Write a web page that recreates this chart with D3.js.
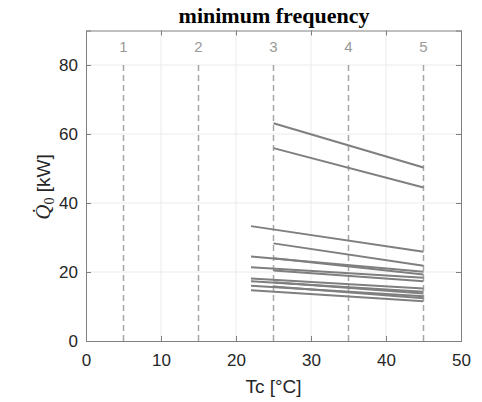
<!DOCTYPE html>
<html><head><meta charset="utf-8">
<script src="https://cdn.jsdelivr.net/npm/d3@7"></script>
<style>body{margin:0;background:#fff}</style>
</head><body>
<svg id="c" width="482" height="402"></svg>
<script>
// data
const tcStart = [22,22,22,22,22,22,22, 25,25,25,25,25,25,25];
const tcEnd   = [45,45,45,45,45,45,45, 45,45,45,45,45,45,45];
const qStart  = [33.3,24.5,21.4,18.1,17.3,16.0,14.7, 63.1,55.9,28.3,24.0,20.4,17.0,15.8];
const qEnd    = [25.9,20.1,18.3,15.2,14.3,13.0,11.5, 50.3,44.5,21.8,19.3,17.3,13.8,12.4];
const stageTc = [5,15,25,35,45];
const stageLabels = ["1","2","3","4","5"];
const xTicks = [0,10,20,30,40,50];
const yTicks = [0,20,40,60,80];

const svg = d3.select("#c");
const L=86,R=461,T=30.5,B=341;
const x = d3.scaleLinear().domain([0,50]).range([L,R]);
const y = d3.scaleLinear().domain([0,90]).range([B,T]);
const sans = "'Liberation Sans', Arial, sans-serif";
const axCol = "#808080";

// grid
svg.append("g").selectAll("line").data(xTicks.slice(1,-1)).join("line")
  .attr("x1",d=>x(d)).attr("x2",d=>x(d)).attr("y1",T).attr("y2",B)
  .attr("stroke","#ebebeb").attr("stroke-width",1);
svg.append("g").selectAll("line").data(yTicks.slice(1)).join("line")
  .attr("x1",L).attr("x2",R).attr("y1",d=>y(d)).attr("y2",d=>y(d))
  .attr("stroke","#ebebeb").attr("stroke-width",1);

// dashed stage lines
svg.append("g").selectAll("line").data(stageTc).join("line")
  .attr("x1",d=>x(d)).attr("x2",d=>x(d)).attr("y1",y(80)).attr("y2",B)
  .attr("stroke","#a6a6a6").attr("stroke-width",1.5).attr("stroke-dasharray","6,4");
svg.append("g").selectAll("text").data(stageTc).join("text")
  .attr("x",d=>x(d)).attr("y",52).attr("text-anchor","middle")
  .attr("font-family",sans).attr("font-size",15).attr("fill","#999999")
  .text((d,i)=>stageLabels[i]);

// axes
const xa = svg.append("g").attr("transform",`translate(0,${B})`)
  .call(d3.axisBottom(x).tickValues(xTicks).tickSize(-5).tickPadding(10));
const ya = svg.append("g").attr("transform",`translate(${L},0)`)
  .call(d3.axisLeft(y).tickValues(yTicks).tickSize(-5).tickPadding(8));
const xt = svg.append("g").attr("transform",`translate(0,${T})`)
  .call(d3.axisTop(x).tickValues(xTicks).tickSize(-5).tickFormat(""));
const yr = svg.append("g").attr("transform",`translate(${R},0)`)
  .call(d3.axisRight(y).tickValues(yTicks).tickSize(-5).tickFormat(""));
[xa,ya,xt,yr].forEach(a=>{
  a.select(".domain").attr("stroke",axCol);
  a.selectAll(".tick line").attr("stroke",axCol);
  a.selectAll("text").attr("font-family",sans).attr("font-size",17).attr("fill","#262626");
});
xa.selectAll("text").attr("dy","0.9em");

// data lines
const line = d3.line().x(d=>x(d[0])).y(d=>y(d[1]));
const series = qStart.map((q,i)=>[[tcStart[i],q],[tcEnd[i],qEnd[i]]]);
svg.append("g").selectAll("path").data(series).join("path")
  .attr("d",line).attr("fill","none").attr("stroke","#7f7f7f").attr("stroke-width",2);

// title
svg.append("text").attr("x",274).attr("y",23).attr("text-anchor","middle")
  .attr("font-family","'Liberation Serif','Times New Roman',serif").attr("font-weight","bold")
  .attr("font-size",22).attr("fill","#000").text("minimum frequency");
// x label
svg.append("text").attr("x",273.5).attr("y",393).attr("text-anchor","middle")
  .attr("font-family",sans).attr("font-size",19).attr("fill","#262626").text("Tc [°C]");
// y label
const yl = svg.append("text").attr("transform","translate(50,187) rotate(-90)")
  .attr("text-anchor","middle").attr("fill","#262626");
yl.append("tspan").attr("font-family","'Liberation Serif',serif").attr("font-style","italic")
  .attr("font-size",21).text("Q\u0307");
yl.append("tspan").attr("font-family","'Liberation Serif',serif").attr("font-size",14)
  .attr("dy",4).text("0");
yl.append("tspan").attr("font-family",sans).attr("font-size",19).attr("dy",-4).text(" [kW]");
</script>
</body></html>
